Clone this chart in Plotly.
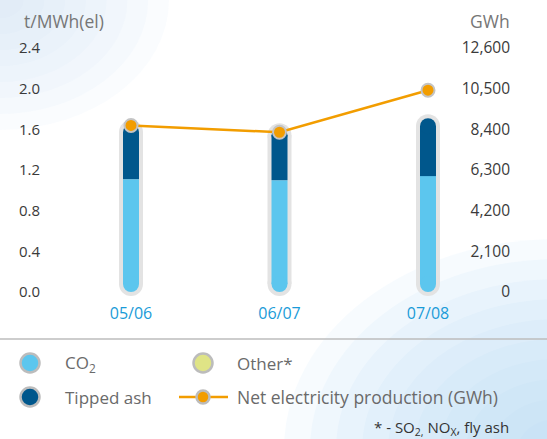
import plotly.graph_objects as go

# ---------------- data ----------------
years = ["05/06", "06/07", "07/08"]
co2 = [1.11, 1.10, 1.14]
tipped_ash = [0.54, 0.52, 0.57]
other = [0.0, 0.0, 0.0]
net_production = [8600, 8250, 10420]

left_ticks = [0.0, 0.4, 0.8, 1.2, 1.6, 2.0, 2.4]
right_ticks = [0, 2100, 4200, 6300, 8400, 10500, 12600]

# ---------------- style / layout constants ----------------
W, H = 547, 439
T, B = 20, 139
PB = H - B             # plot bottom px
PH = H - T - B         # plot height px
ZERO_PX, TOP_PX = 292, 48
PPU = (ZERO_PX - TOP_PX) / 2.4
YMAX = (ZERO_PX - T) / PPU
YMIN = (ZERO_PX - PB) / PPU
RATIO = 12600 / 2.4

CAT0_PX, CAT_STEP = 131, 148.5
XMIN = -CAT0_PX / CAT_STEP
XMAX = (W - CAT0_PX) / CAT_STEP

def px(v):
    return v / PPU

C_CO2 = "#5cc6ee"
C_ASH = "#00578c"
C_OTHER = "#dfe486"
C_ORANGE = "#f29d00"
C_HALO = "#e3e3e3"
C_BLUE_TXT = "#1a9bd8"
FONT = "Open Sans"

def X(p):
    return p / W

def Y(p):
    return (PB - p) / PH

fig = go.Figure()

totals = [c + t + o for c, t, o in zip(co2, tipped_ash, other)]
INNER_W_PX, HALO_W_PX = 16, 24
R = INNER_W_PX / 2            # cap radius of the inner bar (px)
halo_w = HALO_W_PX / CAT_STEP
bar_w = INNER_W_PX / CAT_STEP
low_cap = [px(R)] * len(years)
top_cap = [t - px(R) for t in totals]

# ---- halo (xy) ----
fig.add_trace(go.Bar(x=years, y=[tc - lc for tc, lc in zip(top_cap, low_cap)], base=low_cap,
                     width=halo_w, marker=dict(color=C_HALO, line_width=0),
                     showlegend=False, hoverinfo="skip"))
fig.add_trace(go.Scatter(x=years + years, y=low_cap + top_cap, mode="markers",
                         marker=dict(size=HALO_W_PX, color=C_HALO, line_width=0),
                         showlegend=False, hoverinfo="skip"))

# ---- inner stacked bar (xy2) ----
fig.add_trace(go.Bar(x=years, y=[c - lc for c, lc in zip(co2, low_cap)], base=low_cap, width=bar_w,
                     name="CO₂", yaxis="y2", marker=dict(color=C_CO2, line_width=0), showlegend=False))
fig.add_trace(go.Bar(x=years, y=[tc - c for tc, c in zip(top_cap, co2)], base=co2, width=bar_w,
                     name="Tipped ash", yaxis="y2", marker=dict(color=C_ASH, line_width=0),
                     showlegend=False))
fig.add_trace(go.Bar(x=years, y=other, base=[c + t for c, t in zip(co2, tipped_ash)], width=bar_w,
                     name="Other*", yaxis="y2", marker=dict(color=C_OTHER, line_width=0),
                     showlegend=False))
fig.add_trace(go.Scatter(x=years, y=low_cap, mode="markers", yaxis="y2",
                         marker=dict(size=INNER_W_PX, color=C_CO2, line_width=0),
                         showlegend=False, hoverinfo="skip"))
fig.add_trace(go.Scatter(x=years, y=top_cap, mode="markers", yaxis="y2",
                         marker=dict(size=INNER_W_PX, color=C_ASH, line_width=0),
                         showlegend=False, hoverinfo="skip"))

# ---- Net electricity production (xy3) ----
fig.add_trace(go.Scatter(x=years, y=net_production, yaxis="y3", mode="lines+markers",
                         name="Net electricity production (GWh)",
                         line=dict(color=C_ORANGE, width=2.5),
                         marker=dict(size=13, color=C_ORANGE, line=dict(color="#c4c4c4", width=2)),
                         showlegend=False))

shapes = []
# soft background glows
for i in range(8):
    r = 18 + i * 16
    shapes.append(dict(type="circle", xref="paper", yref="paper", layer="below",
                       x0=X(-r * 1.3), x1=X(r * 1.3), y0=Y(r), y1=Y(-r),
                       fillcolor="rgba(205,230,245,0.11)", line_width=0))
for i in range(10):
    r = 30 + i * 20
    shapes.append(dict(type="circle", xref="paper", yref="paper", layer="below",
                       x0=X(W + 10 - r * 1.3), x1=X(W + 10 + r * 1.3), y0=Y(H + 10 + r), y1=Y(H + 10 - r),
                       fillcolor="rgba(185,223,243,0.11)", line_width=0))
# separator
shapes.append(dict(type="line", xref="paper", yref="paper", x0=0, x1=1, y0=Y(339), y1=Y(339),
                   line=dict(color="#bdbdbd", width=1.5)))

def legend_dot(cx, cy, color, d=19):
    r = d / 2
    shapes.append(dict(type="circle", xref="paper", yref="paper",
                       x0=X(cx - r), x1=X(cx + r), y0=Y(cy + r), y1=Y(cy - r),
                       fillcolor=color, line=dict(color="#bcbcbc", width=2.5)))

legend_dot(30, 363, C_CO2)
legend_dot(30, 397, C_ASH)
legend_dot(203, 363, C_OTHER)
shapes.append(dict(type="line", xref="paper", yref="paper", x0=X(179), x1=X(228), y0=Y(397), y1=Y(397),
                   line=dict(color=C_ORANGE, width=2.5)))
legend_dot(203, 397, C_ORANGE, d=13)

annotations = []

def txt(x, y, text, size, color, xanchor="left"):
    annotations.append(dict(x=X(x), y=Y(y), xref="paper", yref="paper", text=text, showarrow=False,
                            xanchor=xanchor, yanchor="middle",
                            font=dict(family=FONT, size=size, color=color)))

txt(64, 21, "t/MWh(el)", 17.5, "#767676", xanchor="center")
txt(490, 21, "GWh", 17.5, "#767676", xanchor="center")
txt(63, 363, "CO<sub>2</sub>", 17, "#6a6a6a")
txt(63, 397, "Tipped ash", 17, "#6a6a6a")
txt(235, 363, "Other*", 17, "#6a6a6a")
txt(235, 397, "Net electricity production (GWh)", 17.5, "#6a6a6a")
txt(511, 428, "* - SO<sub>2,</sub> NO<sub>X</sub>, fly ash", 15, "#333333", xanchor="right")

hidden = dict(range=[YMIN, YMAX], overlaying="y", showgrid=False, zeroline=False, showline=False,
              showticklabels=False, ticks="", automargin=False)

fig.update_layout(
    width=W, height=H,
    margin=dict(l=0, r=0, t=T, b=B, autoexpand=False),
    paper_bgcolor="white", plot_bgcolor="rgba(0,0,0,0)",
    barmode="overlay",
    showlegend=False,
    font=dict(family=FONT),
    xaxis=dict(type="category", range=[XMIN, XMAX], showgrid=False, zeroline=False, showline=False,
               ticks="", tickfont=dict(size=16, color=C_BLUE_TXT), automargin=False,
               ticklabelstandoff=2),
    yaxis=dict(range=[YMIN, YMAX], tickvals=left_ticks, ticktext=[f"{v:.1f}" for v in left_ticks],
               showgrid=False, zeroline=False, showline=False, ticks="",
               ticklabelposition="inside", ticklabeloverflow="allow", ticklabelstandoff=16,
               tickfont=dict(size=15, color="#3a3a3a"), automargin=False),
    yaxis2=hidden,
    yaxis3=dict(range=[YMIN * RATIO, YMAX * RATIO], overlaying="y", side="right",
                tickvals=right_ticks, ticktext=[f"{v:,}" for v in right_ticks],
                showgrid=False, zeroline=False, showline=False, ticks="",
                ticklabelposition="inside", ticklabeloverflow="allow", ticklabelstandoff=34,
                tickfont=dict(size=15.5, color="#3a3a3a"), automargin=False),
    shapes=shapes,
    annotations=annotations,
)

fig.write_html("out.html")
